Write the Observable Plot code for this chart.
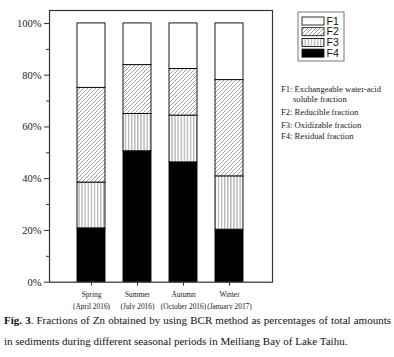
<!DOCTYPE html>
<html>
<head>
<meta charset="utf-8">
<script src="https://cdn.jsdelivr.net/npm/d3@7"></script>
<script src="https://cdn.jsdelivr.net/npm/@observablehq/plot@0.6"></script>
<style>
  html, body { margin: 0; padding: 0; background: #fff; }
  #wrap { position: relative; width: 394px; height: 357px; overflow: hidden; }
  #chart svg { display: block; }
  .cap { font-family: "Liberation Serif", "Times New Roman", serif; font-size: 11px; line-height: 21px; color: #111; padding-left: 4px; width: 387px; white-space: nowrap; }
  .cap .l1 { text-align: justify; text-align-last: justify; }
</style>
</head>
<body>
<div id="wrap">
  <div id="chart"></div>
  <div class="cap">
    <div class="l1"><b>Fig. 3</b>. Fractions of Zn obtained by using BCR method as percentages of total amounts</div>
    <div>in sediments during different seasonal periods in Meiliang Bay of Lake Taihu.</div>
  </div>
</div>
<script>
// ---- data ----
const seasons = ["Spring", "Summer", "Autumn", "Winter"];
const periods = ["(April 2016)", "(July 2016)", "(October 2016)", "(January 2017)"];
const fractions = ["F4", "F3", "F2", "F1"]; // bottom to top
const f4 = [20.8, 50.6, 46.3, 20.3];
const f3 = [17.7, 14.4, 18.1, 20.6];
const f2 = [36.6, 18.9, 18.0, 37.2];
const f1 = [24.9, 16.1, 17.6, 21.9];
const legendKeys = ["F1", "F2", "F3", "F4"];
const legendNotes = [
  ["F1: Exchangeable water-acid", "soluble fraction"],
  ["F2: Reducible fraction"],
  ["F3: Oxidizable fraction"],
  ["F4: Residual fraction"]
];
const yMajor = [0, 20, 40, 60, 80, 100];
const yMinor = [10, 30, 50, 70, 90];

const series = {F4: f4, F3: f3, F2: f2, F1: f1};
const rows = [];
seasons.forEach((s, i) => {
  fractions.forEach(f => rows.push({season: s, fraction: f, value: series[f][i]}));
});
const fillOf = {F1: "white", F2: "url(#pat-diag)", F3: "url(#pat-vert)", F4: "black"};

const chart = Plot.plot({
  width: 394,
  height: 310,
  marginLeft: 49,
  marginRight: 122,
  marginTop: 10,
  marginBottom: 28.3,
  style: {fontFamily: "'Liberation Serif', 'Times New Roman', serif", fontSize: "10.5px", color: "#222", background: "white"},
  x: {domain: seasons, paddingInner: 0.39, paddingOuter: 0.61, label: null},
  y: {domain: [0, 105], label: null},
  color: {type: "ordinal", domain: legendKeys, range: legendKeys.map(k => fillOf[k])},
  marks: [
    Plot.barY(rows, {x: "season", y: "value", fill: "fraction", stroke: "black", strokeWidth: 0.9}),
    Plot.axisY(yMajor, {tickSize: 5, tickPadding: 3, tickFormat: d => d + "%", stroke: "#333", label: null}),
    Plot.axisY(yMinor, {tickSize: 3, tickFormat: () => "", stroke: "#333", label: null}),
    Plot.axisX({tickSize: 4, tickPadding: 2, fontSize: 7.4, lineHeight: 1.65, stroke: "#333",
      tickFormat: d => d + "\n" + periods[seasons.indexOf(d)], label: null}),
    Plot.frame({stroke: "#333", strokeWidth: 1.2})
  ]
});
document.getElementById("chart").appendChild(chart);

// patterns and legend
const svg = d3.select(chart);
const defs = svg.insert("defs", ":first-child");
const pd = defs.append("pattern").attr("id", "pat-diag").attr("patternUnits", "userSpaceOnUse")
  .attr("width", 4).attr("height", 4);
pd.append("rect").attr("width", 4).attr("height", 4).attr("fill", "white");
pd.append("path").attr("d", "M-1,1 L1,-1 M0,4 L4,0 M3,5 L5,3").attr("stroke", "#555").attr("stroke-width", 0.55);
const pv = defs.append("pattern").attr("id", "pat-vert").attr("patternUnits", "userSpaceOnUse")
  .attr("width", 3.1).attr("height", 4);
pv.append("rect").attr("width", 3.1).attr("height", 4).attr("fill", "white");
pv.append("path").attr("d", "M1.5,0 L1.5,4").attr("stroke", "#444").attr("stroke-width", 0.6);

const lg = svg.append("g").attr("text-anchor", "start");
lg.append("rect").attr("x", 298).attr("y", 12).attr("width", 46).attr("height", 49)
  .attr("fill", "white").attr("stroke", "#555").attr("stroke-width", 0.8);
legendKeys.forEach((k, i) => {
  const y = 17 + i * 10.7;
  lg.append("rect").attr("x", 302).attr("y", y).attr("width", 22).attr("height", 8)
    .attr("fill", fillOf[k]).attr("stroke", "black").attr("stroke-width", 0.8);
  lg.append("text").attr("x", 326.5).attr("y", y + 4).attr("dy", "0.36em").attr("text-anchor", "start")
    .attr("font-family", "'Liberation Sans', Arial, sans-serif").attr("font-size", 10.5)
    .attr("fill", "#111").text(k);
});
const noteY = [[89.3, 99], [112], [124.7], [136.3]];
legendNotes.forEach((lines, i) => {
  lines.forEach((t, j) => {
    lg.append("text").attr("x", j === 0 ? 281 : 293).attr("y", noteY[i][j]).attr("dy", "0.35em")
      .attr("text-anchor", "start").attr("font-size", 8.6).attr("fill", "#222").text(t);
  });
});
</script>
</body>
</html>
